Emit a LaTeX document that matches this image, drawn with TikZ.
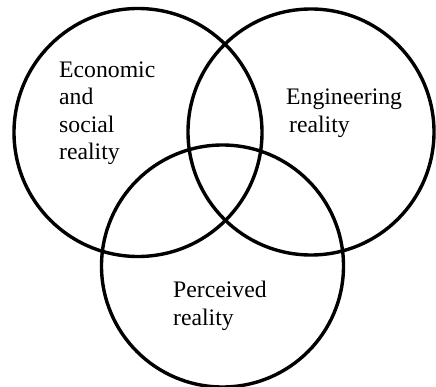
\documentclass[tikz,border=0pt]{standalone}
\usepackage{fontspec}
\setmainfont{Liberation Serif}
\usepackage{tikz}
\usetikzlibrary{positioning}

\begin{document}
\begin{tikzpicture}[x=1pt,y=-1pt]
  \useasboundingbox (0,0) rectangle (436,387);
    \tikzstyle{ring}=[circle,draw=black,line width=3.4pt,inner sep=0pt]
    \tikzstyle{label}=[align=left,inner sep=0pt,anchor=base west,font=\fontsize{23.7}{27.6}\selectfont]

  % the three realities
  \node[ring,minimum size=248pt] (economic) at (138,132.5) {};
  \node[ring,minimum size=246pt] (engineering) at (311,132) {};
  \node[ring,minimum size=242pt] (perceived) at (222.5,266) {};

  % base anchor sits on the last line
  \node[label] (economictext) at (59,160) {Economic\\and\\social\\reality};
  \node[label] (engineeringtext) at (286,132.5) {Engineering\\\hspace{3pt}reality};
  \node[label] (perceivedtext) at (173,325) {Perceived\\reality};
\end{tikzpicture}
\end{document}
